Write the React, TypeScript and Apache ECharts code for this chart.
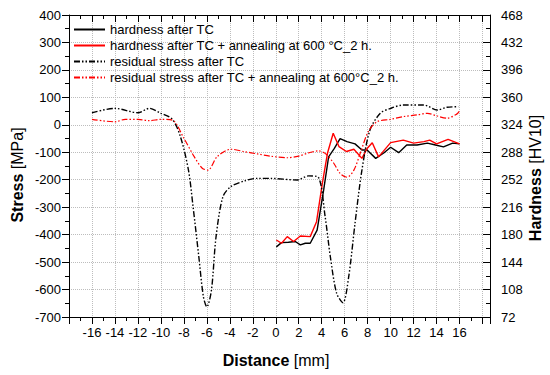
import React, { useEffect, useRef } from "react";
import * as echarts from "echarts";

// Distance [mm] and values
const stressTcX = [-16, -14, -12, -11, -10, -9, -8.3, -7.6, -7.2, -6.7, -6.3, -6.0, -5.6, -5.2, -4.6, -3.9, -2.7, -1.6, -0.5, 1.85, 2.86, 3.7, 4.3, 4.75, 5.3, 5.85, 6.35, 6.9, 7.5, 8.2, 9.1, 10, 11.1, 12.9, 14.05, 14.9, 15.9];
const stressTcY = [44, 60, 44, 60, 42, 20, -43, -165, -298, -480, -626, -663, -602, -408, -262, -225, -204, -195, -195, -201, -186, -191, -335, -480, -614, -648, -553, -359, -165, -19, 42, 60, 72, 72, 54, 64, 66];

const stressAnnX = [-16, -14, -13.1, -12, -11, -10, -9, -8, -7.1, -6.4, -5.9, -5.1, -3.9, -2.7, -1.6, -0.5, 1.0, 2.0, 2.87, 3.7, 4.3, 5.05, 5.6, 6.2, 6.8, 7.4, 8.05, 8.8, 10, 11.1, 12.3, 13.2, 14.05, 14.9, 15.75, 16];
const stressAnnY = [20, 11, 20, 20, 15, 20, 17, -49, -116, -158, -165, -116, -89, -98, -106, -114, -120, -114, -102, -95, -104, -140, -177, -191, -165, -98, -25, 11, 20, 30, 36, 42, 32, 24, 39, 51];

const hardTcX = [0.05, 0.5, 1.1, 1.7, 2.14, 2.57, 3.0, 3.6, 4.17, 4.6, 5.1, 5.6, 6.2, 6.9, 7.5, 7.95, 8.7, 9.4, 10, 10.7, 11.4, 12.3, 13.2, 13.9, 14.6, 15.4, 16];
const hardTcY = [164, 169.5, 170, 171, 166.5, 168.7, 168.7, 186, 238.6, 282, 293, 306, 302, 299, 291, 291, 280, 287, 294.6, 287.5, 297.6, 297.6, 300, 297.6, 295, 300, 299];

const hardAnnX = [0.05, 0.5, 1.0, 1.55, 2.14, 3.0, 3.55, 4.05, 4.5, 5.0, 5.5, 6.15, 6.8, 7.5, 7.95, 8.4, 8.95, 10, 11.1, 12.0, 12.9, 13.4, 14.0, 15.0, 16];
const hardAnnY = [173, 168.7, 177.4, 171, 178.3, 177.4, 197, 247, 286.7, 313, 295.5, 289, 292, 280, 293, 300.6, 282, 300.6, 304, 300, 302, 304, 299, 305, 299];

const seriesNames = [
  "hardness after TC",
  "hardness after TC + annealing at 600 °C_2 h.",
  "residual stress after TC",
  "residual stress after TC + annealing at 600°C_2 h.",
];

const xMin = -18;
const xMax = 18.65;
const stressMin = -700;
const stressMax = 400;
const hardMin = 72;
const hardMax = 468;

const zip = (xs: number[], ys: number[]) => xs.map((x, i) => [x, ys[i]]);

const FONT = "Liberation Sans, Arial, sans-serif";
const dashDotDot = [6, 2, 1.5, 2, 1.5, 2];

export default function App() {
  const ref = useRef<HTMLDivElement>(null);
  useEffect(() => {
    if (!ref.current) return;
    const chart = echarts.init(ref.current, null, { renderer: "svg" });
    const axisLine = { show: true, onZero: false, lineStyle: { color: "#000", width: 1 } };
    const labelStyle = { color: "#000", fontSize: 13, fontFamily: FONT };
    chart.setOption({
      animation: false,
      backgroundColor: "#fff",
      textStyle: { fontFamily: FONT },
      grid: { left: 69, right: 60, top: 15, bottom: 58, containLabel: false },
      legend: {
        left: 68,
        top: 18,
        orient: "vertical",
        itemWidth: 31,
        itemHeight: 14,
        itemGap: 3,
        itemStyle: { opacity: 0 },
        textStyle: { color: "#000", fontSize: 13, fontFamily: FONT },
        data: seriesNames,
      },
      xAxis: [
        {
          type: "value",
          min: xMin,
          max: xMax,
          interval: 2,
          position: "bottom",
          axisLine,
          axisTick: { show: true, inside: false, length: 7, lineStyle: { color: "#000" } },
          minorTick: { show: true, splitNumber: 2, length: 4, lineStyle: { color: "#000" } },
          axisLabel: {
            ...labelStyle,
            margin: 9,
            showMinLabel: true,
            showMaxLabel: false,
            formatter: (v: number) => (Math.abs(v) <= 16 && Number.isInteger(v) ? String(v) : ""),
          },
          splitLine: { show: true, lineStyle: { color: "#bdbdbd", type: "dotted", width: 1 } },
        },
        {
          type: "value",
          min: xMin,
          max: xMax,
          interval: 2,
          position: "top",
          axisLine,
          axisTick: { show: true, inside: true, length: 7, lineStyle: { color: "#000" } },
          minorTick: { show: true, splitNumber: 2, length: 4, lineStyle: { color: "#000" } },
          axisLabel: { show: false },
          splitLine: { show: false },
        },
      ],
      yAxis: [
        {
          type: "value",
          min: stressMin,
          max: stressMax,
          interval: 100,
          position: "left",
          axisLine,
          axisTick: { show: true, inside: false, length: 7, lineStyle: { color: "#000" } },
          minorTick: { show: true, splitNumber: 2, length: 4, lineStyle: { color: "#000" } },
          axisLabel: { ...labelStyle, margin: 8 },
          splitLine: { show: true, lineStyle: { color: "#bdbdbd", type: "dotted", width: 1 } },
        },
        {
          type: "value",
          min: hardMin,
          max: hardMax,
          interval: 36,
          position: "right",
          axisLine,
          axisTick: { show: true, inside: true, length: 7, lineStyle: { color: "#000" } },
          minorTick: { show: true, splitNumber: 2, length: 4, lineStyle: { color: "#000" } },
          axisLabel: { ...labelStyle, margin: 11 },
          splitLine: { show: false },
        },
      ],
      series: [
        {
          name: seriesNames[0],
          type: "line",
          yAxisIndex: 1,
          data: zip(hardTcX, hardTcY),
          showSymbol: false,
          symbol: "none",
          lineStyle: { color: "#000", width: 1.4 },
          itemStyle: { color: "#000" },
        },
        {
          name: seriesNames[1],
          type: "line",
          yAxisIndex: 1,
          data: zip(hardAnnX, hardAnnY),
          showSymbol: false,
          symbol: "none",
          lineStyle: { color: "#ff0000", width: 1.4 },
          itemStyle: { color: "#ff0000" },
        },
        {
          name: seriesNames[2],
          type: "line",
          yAxisIndex: 0,
          data: zip(stressTcX, stressTcY),
          smooth: 0.3,
          showSymbol: false,
          symbol: "none",
          lineStyle: { color: "#000", width: 1.4, type: dashDotDot },
          itemStyle: { color: "#000" },
        },
        {
          name: seriesNames[3],
          type: "line",
          yAxisIndex: 0,
          data: zip(stressAnnX, stressAnnY),
          smooth: 0.3,
          showSymbol: false,
          symbol: "none",
          lineStyle: { color: "#ff0000", width: 1.2, type: dashDotDot },
          itemStyle: { color: "#ff0000" },
        },
      ],
      graphic: [
        {
          type: "text",
          x: 17,
          y: 175,
          rotation: Math.PI / 2,
          style: {
            text: "{b|Stress} [MPa]",
            align: "center",
            verticalAlign: "middle",
            fill: "#000",
            font: `16px ${FONT}`,
            rich: { b: { fontWeight: "bold", fontSize: 16, fontFamily: FONT, fill: "#000" } },
          },
        },
        {
          type: "text",
          x: 535,
          y: 178,
          rotation: Math.PI / 2,
          style: {
            text: "{b|Hardness} [HV10]",
            align: "center",
            verticalAlign: "middle",
            fill: "#000",
            font: `16px ${FONT}`,
            rich: { b: { fontWeight: "bold", fontSize: 16, fontFamily: FONT, fill: "#000" } },
          },
        },
        {
          type: "text",
          x: 276,
          y: 360,
          style: {
            text: "{b|Distance} [mm]",
            align: "center",
            verticalAlign: "middle",
            fill: "#000",
            font: `16px ${FONT}`,
            rich: { b: { fontWeight: "bold", fontSize: 16, fontFamily: FONT, fill: "#000" } },
          },
        },
      ],
    });
    return () => chart.dispose();
  }, []);
  return <div ref={ref} style={{ width: 550, height: 375, position: "absolute", left: 0, top: 0 }} />;
}
